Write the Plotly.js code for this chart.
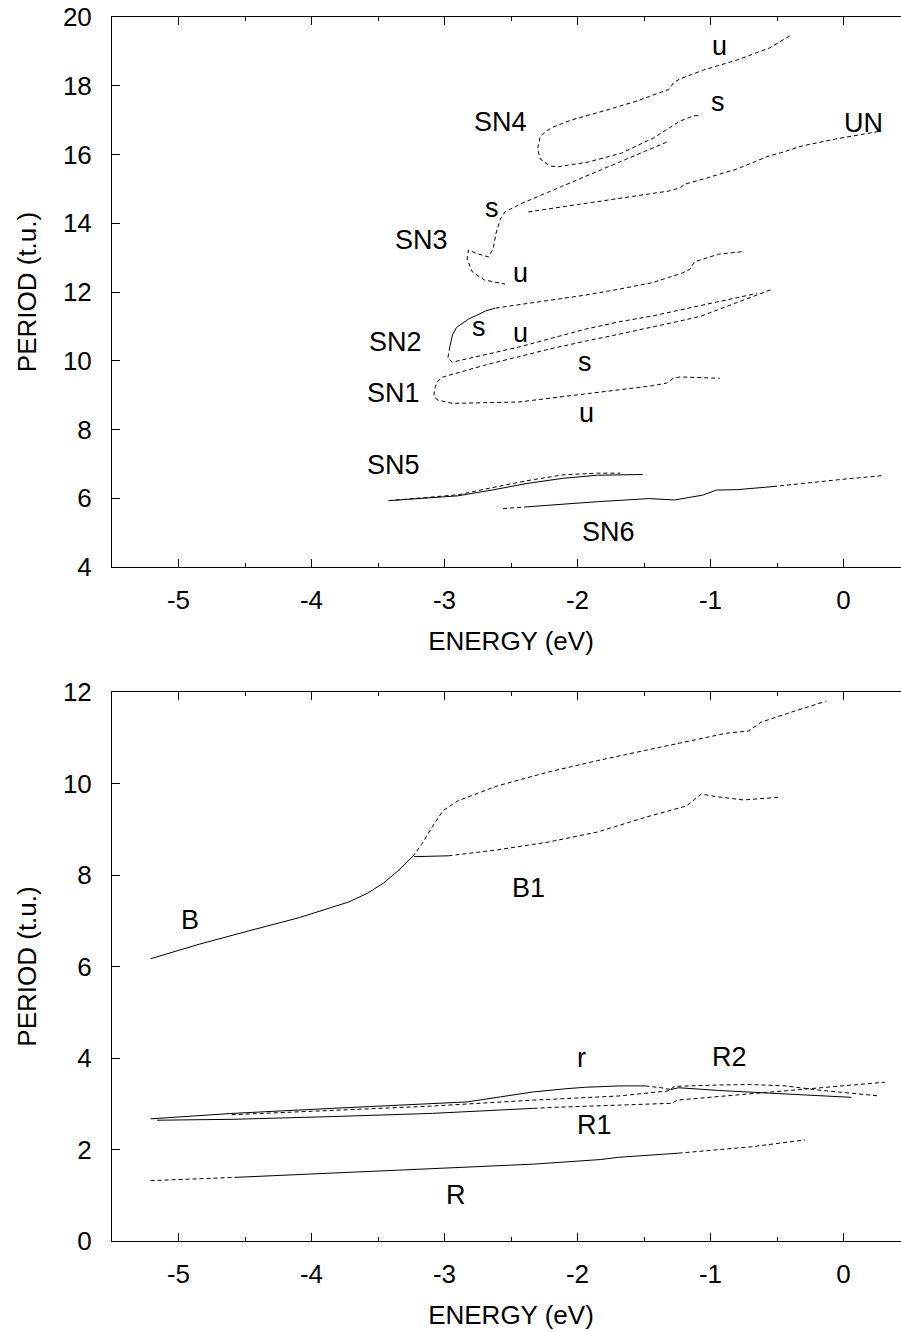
<!DOCTYPE html>
<html>
<head>
<meta charset="utf-8">
<script src="https://cdn.plot.ly/plotly-3.0.1.min.js"></script>
<style>
  html, body { margin: 0; padding: 0; background: #fff; overflow: hidden; }
  #plot { width: 910px; height: 1332px; }
</style>
</head>
<body>
<div id="plot"></div>
<script>
// ---------- energy axis ticks ----------
const energyTicks = [-5, -4, -3, -2, -1, 0];
const energyTickText = ['-5', '-4', '-3', '-2', '-1', '0'];

// ---------- upper panel: saddle-node families ----------
// SN1 (dashed): upper branch from the right end, round the fold, lower branch to the right
const sn1E = [-0.55, -0.69, -0.94, -1.07, -1.19, -1.44, -1.69, -1.94, -2.19, -2.44, -2.69, -2.87, -3.02, -3.055, -3.07, -3.08, -3.055, -2.94, -2.70, -2.44, -2.19, -1.94, -1.69, -1.44, -1.33, -1.28, -1.23, -1.07, -0.93];
const sn1P = [12.06, 11.85, 11.48, 11.30, 11.19, 10.97, 10.77, 10.57, 10.36, 10.12, 9.88, 9.68, 9.52, 9.38, 9.24, 9.00, 8.86, 8.76, 8.77, 8.80, 8.92, 9.03, 9.15, 9.27, 9.35, 9.49, 9.53, 9.50, 9.49];

// SN2: upper branch (dashed), fold (solid), lower branch (dashed)
const sn2UpperE = [-0.766, -0.94, -1.12, -1.14, -1.155, -1.22, -1.44, -1.69, -1.94, -2.19, -2.44, -2.62];
const sn2UpperP = [13.17, 13.10, 12.88, 12.76, 12.66, 12.54, 12.27, 12.08, 11.91, 11.77, 11.62, 11.53];
const sn2FoldE = [-2.62, -2.69, -2.82, -2.91, -2.94, -2.96];
const sn2FoldP = [11.53, 11.45, 11.21, 10.97, 10.75, 10.41];
const sn2LowerE = [-2.96, -2.975, -2.94, -2.70, -2.44, -2.19, -1.94, -1.69, -1.44, -1.19, -0.94, -0.65];
const sn2LowerP = [10.41, 10.07, 9.96, 10.17, 10.40, 10.66, 10.92, 11.13, 11.30, 11.51, 11.71, 11.96];

// SN3 (dashed)
const sn3E = [-1.33, -1.80, -2.18, -2.43, -2.545, -2.58, -2.61, -2.635, -2.67, -2.75, -2.82, -2.83, -2.79, -2.70, -2.545];
const sn3P = [16.36, 15.58, 14.97, 14.56, 14.33, 14.12, 13.75, 13.25, 13.02, 13.11, 13.22, 12.96, 12.58, 12.35, 12.23];

// SN4 (dashed)
const sn4E = [-0.405, -0.556, -0.80, -1.05, -1.23, -1.28, -1.31, -1.37, -1.55, -1.80, -2.05, -2.20, -2.28, -2.30, -2.28, -2.21, -2.15, -1.92, -1.67, -1.43, -1.23, -1.13, -1.07];
const sn4P = [19.45, 19.10, 18.75, 18.46, 18.20, 18.08, 17.90, 17.82, 17.56, 17.27, 17.00, 16.77, 16.54, 16.16, 15.87, 15.67, 15.64, 15.78, 16.04, 16.48, 16.97, 17.12, 17.15];

// UN (dashed)
const unE = [-2.37, -1.80, -1.31, -1.23, -1.19, -1.05, -0.80, -0.56, -0.48, -0.31, -0.06, 0.28];
const unP = [14.33, 14.65, 14.94, 15.03, 15.14, 15.29, 15.58, 15.96, 16.04, 16.25, 16.45, 16.68];

// SN5: stable (solid) and unstable (dashed) branches
const sn5SolidE = [-3.42, -2.90, -2.64, -2.38, -2.11, -1.85, -1.51];
const sn5SolidP = [5.93, 6.07, 6.24, 6.43, 6.58, 6.67, 6.69];
const sn5DashE = [-3.42, -2.90, -2.64, -2.38, -2.11, -1.85, -1.68];
const sn5DashP = [5.93, 6.10, 6.31, 6.51, 6.68, 6.73, 6.73];

// SN6: dashed start, solid middle, dashed tail
const sn6HeadE = [-2.56, -2.38];
const sn6HeadP = [5.70, 5.75];
const sn6MidE = [-2.38, -2.11, -1.85, -1.46, -1.27, -1.06, -0.955, -0.80, -0.53];
const sn6MidP = [5.75, 5.83, 5.90, 5.99, 5.95, 6.09, 6.24, 6.25, 6.34];
const sn6TailE = [-0.53, -0.27, -0.01, 0.30];
const sn6TailP = [6.34, 6.45, 6.55, 6.66];

// ---------- lower panel: B, B1, r, R, R1, R2 ----------
const bSolidE = [-5.21, -4.84, -4.47, -4.09, -3.83, -3.72, -3.58, -3.53, -3.46, -3.35, -3.24];
const bSolidP = [6.17, 6.49, 6.78, 7.07, 7.31, 7.41, 7.60, 7.69, 7.82, 8.09, 8.40];
const bDashE = [-3.24, -3.17, -3.08, -3.01, -2.90, -2.60, -2.22, -1.85, -1.48, -1.10, -0.88, -0.71, -0.62, -0.36, -0.13];
const bDashP = [8.40, 8.68, 9.11, 9.41, 9.62, 9.95, 10.25, 10.50, 10.73, 10.97, 11.10, 11.15, 11.34, 11.59, 11.80];

const b1SolidE = [-3.23, -2.97];
const b1SolidP = [8.40, 8.42];
const b1DashE = [-2.97, -2.60, -2.22, -1.85, -1.48, -1.18, -1.10, -1.07, -0.95, -0.75, -0.58, -0.47];
const b1DashP = [8.42, 8.55, 8.72, 8.94, 9.27, 9.51, 9.70, 9.77, 9.71, 9.64, 9.68, 9.70];

const rSolidE = [-5.21, -4.59, -3.84, -3.09, -2.83, -2.58, -2.33, -2.08, -1.94, -1.69, -1.49];
const rSolidP = [2.67, 2.79, 2.90, 3.00, 3.04, 3.15, 3.26, 3.33, 3.36, 3.39, 3.39];
const rDashE = [-1.49, -1.37, -1.30];
const rDashP = [3.39, 3.35, 3.31];
const rTailE = [-1.30, -1.24, -0.94, -0.44, 0.06];
const rTailP = [3.31, 3.35, 3.29, 3.21, 3.14];

const r2E = [-4.60, -3.84, -3.09, -2.33, -2.19, -1.69, -1.32, -1.27, -0.94, -0.69, -0.44, -0.19, 0.27];
const r2P = [2.76, 2.86, 2.95, 3.08, 3.10, 3.17, 3.28, 3.38, 3.41, 3.42, 3.39, 3.30, 3.17];

const r1SolidE = [-5.16, -4.59, -3.84, -3.09, -2.33];
const r1SolidP = [2.64, 2.66, 2.72, 2.79, 2.90];
const r1DashE = [-2.33, -2.19, -1.69, -1.29, -1.25, -0.94, -0.44, -0.19, 0.31];
const r1DashP = [2.90, 2.92, 2.97, 3.01, 3.08, 3.16, 3.28, 3.34, 3.47];

const bigRHeadE = [-5.21, -4.58];
const bigRHeadP = [1.32, 1.39];
const bigRMidE = [-4.58, -3.84, -3.09, -2.33, -1.83, -1.69, -1.24];
const bigRMidP = [1.39, 1.48, 1.58, 1.68, 1.78, 1.83, 1.92];
const bigRTailE = [-1.24, -0.94, -0.69, -0.29];
const bigRTailP = [1.92, 1.99, 2.06, 2.21];

// ---------- curve labels ----------
const topLabelText = ['u', 's', 'SN4', 'UN', 's', 'SN3', 'u', 's', 'u', 'SN2', 's', 'SN1', 'u', 'SN5', 'SN6'];
const topLabelE = [-0.93, -0.94, -2.58, 0.15, -2.64, -3.17, -2.43, -2.74, -2.43, -3.37, -1.94, -3.38, -1.93, -3.38, -1.77];
const topLabelP = [19.16, 17.54, 16.95, 16.91, 14.43, 13.51, 12.54, 10.98, 10.81, 10.55, 9.96, 9.06, 8.48, 6.97, 5.03];

const bottomLabelText = ['B', 'B1', 'r', 'R2', 'R1', 'R'];
const bottomLabelE = [-4.91, -2.37, -1.97, -0.86, -1.87, -2.91];
const bottomLabelP = [7.02, 7.72, 3.99, 4.03, 2.54, 1.00];

// ---------- drawing ----------
const FONT = 'Liberation Sans, Arial, Helvetica, sans-serif';
const DASH = '4px,3px';

const segments = [
  [sn1E, sn1P, true, 1],
  [sn2UpperE, sn2UpperP, true, 1],
  [sn2FoldE, sn2FoldP, false, 1],
  [sn2LowerE, sn2LowerP, true, 1],
  [sn3E, sn3P, true, 1],
  [sn4E, sn4P, true, 1],
  [unE, unP, true, 1],
  [sn5SolidE, sn5SolidP, false, 1],
  [sn5DashE, sn5DashP, true, 1],
  [sn6HeadE, sn6HeadP, true, 1],
  [sn6MidE, sn6MidP, false, 1],
  [sn6TailE, sn6TailP, true, 1],
  [bSolidE, bSolidP, false, 2],
  [bDashE, bDashP, true, 2],
  [b1SolidE, b1SolidP, false, 2],
  [b1DashE, b1DashP, true, 2],
  [rSolidE, rSolidP, false, 2],
  [rDashE, rDashP, true, 2],
  [rTailE, rTailP, false, 2],
  [r2E, r2P, true, 2],
  [r1SolidE, r1SolidP, false, 2],
  [r1DashE, r1DashP, true, 2],
  [bigRHeadE, bigRHeadP, true, 2],
  [bigRMidE, bigRMidP, false, 2],
  [bigRTailE, bigRTailP, true, 2],
];

const traces = segments.map(([e, p, dashed, panel]) => ({
  x: e, y: p,
  type: 'scatter', mode: 'lines',
  xaxis: panel === 1 ? 'x' : 'x2',
  yaxis: panel === 1 ? 'y' : 'y2',
  line: { color: '#000', width: 1, dash: dashed ? DASH : 'solid' },
  hoverinfo: 'skip', showlegend: false,
}));

const labelFont = { family: FONT, size: 27, color: '#000' };
const annotations = [];
topLabelText.forEach((t, i) => annotations.push({
  text: t, x: topLabelE[i], y: topLabelP[i], xref: 'x', yref: 'y',
  showarrow: false, font: labelFont, xanchor: 'center', yanchor: 'middle',
}));
bottomLabelText.forEach((t, i) => annotations.push({
  text: t, x: bottomLabelE[i], y: bottomLabelP[i], xref: 'x2', yref: 'y2',
  showarrow: false, font: labelFont, xanchor: 'center', yanchor: 'middle',
}));

const tickFont = { family: FONT, size: 26, color: '#000' };
const titleFont = { family: FONT, size: 26, color: '#000' };

const energyAxis = (anchor) => ({
  anchor: anchor, domain: [0, 1],
  range: [-5.5, 0.5], autorange: false,
  tickmode: 'array', tickvals: energyTicks, ticktext: energyTickText,
  ticks: 'inside', ticklen: 8, tickwidth: 1, tickcolor: '#000',
  minor: { dtick: 0.5, tick0: 0, ticks: 'inside', ticklen: 4, tickwidth: 1, tickcolor: '#000', showgrid: false },
  showline: true, mirror: 'allticks', linecolor: '#000', linewidth: 1,
  showgrid: false, zeroline: false,
  tickfont: tickFont, ticklabelstandoff: 10,
  title: { text: 'ENERGY (eV)', font: titleFont, standoff: 17 },
  automargin: false,
});

const periodAxis = (anchor, domain, range) => ({
  anchor: anchor, domain: domain,
  range: range, autorange: false, dtick: 2, tick0: 0,
  ticks: 'inside', ticklen: 8, tickwidth: 1, tickcolor: '#000',
  showline: true, mirror: 'allticks', linecolor: '#000', linewidth: 1,
  showgrid: false, zeroline: false,
  tickfont: tickFont, ticklabelstandoff: 14,
  title: { text: 'PERIOD (t.u.)', font: titleFont, standoff: 18 },
  automargin: false,
});

// panel frames in page pixels: upper 17..567, lower 692..1241
const H = 1332;
const layout = {
  width: 910, height: H,
  margin: { l: 112, r: 0, t: 0, b: 0 },
  paper_bgcolor: '#fff', plot_bgcolor: '#fff',
  showlegend: false,
  xaxis: energyAxis('y'),
  yaxis: periodAxis('x', [(H - 567) / H, (H - 17) / H], [4, 20]),
  xaxis2: energyAxis('y2'),
  yaxis2: periodAxis('x2', [(H - 1241) / H, (H - 692) / H], [0, 12]),
  annotations: annotations,
  font: { family: FONT, color: '#000' },
};

Plotly.newPlot('plot', traces, layout, { staticPlot: true, displayModeBar: false });
</script>
</body>
</html>
